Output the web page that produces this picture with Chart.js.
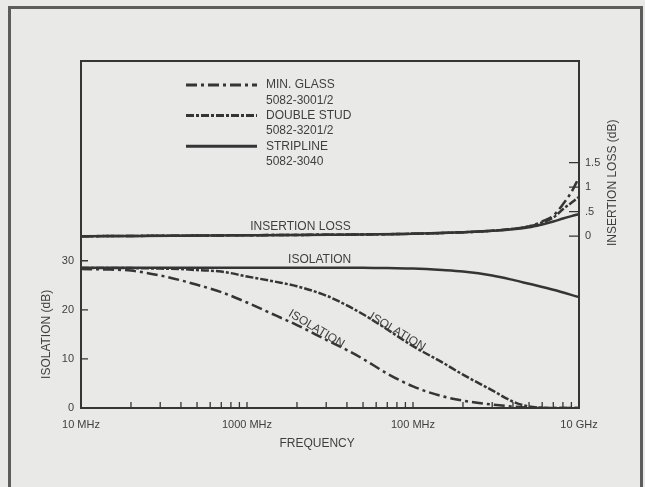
<!DOCTYPE html>
<html><head><meta charset="utf-8">
<script src="https://cdn.jsdelivr.net/npm/chart.js@4.4.1/dist/chart.umd.min.js"></script>
<style>
html,body{margin:0;padding:0;background:#e9e9e8;}
#wrap{position:relative;width:645px;height:487px;overflow:hidden;background:#e9e9e8;}
#frame{position:absolute;left:8px;top:6px;width:635px;height:484px;border:3px solid #5c5c5c;box-sizing:border-box;}
canvas{position:absolute;left:0;top:0;}
</style></head><body>
<div id="wrap"><div id="frame"></div><canvas id="c" width="645" height="487"></canvas></div>
<script>
// ---- data ----
const isoFreqMHz    = [10,15,20,30,40,50,70,100,150,200,300,400,500,700,1000,1500,2000,3000,4000,5000,7000,10000];
const isoMinGlass   = [28.3,28.2,28.0,27.0,26.0,25.1,23.6,21.5,18.8,16.9,13.9,11.8,10.0,7.0,4.4,2.4,1.5,0.7,0.3,0.1,0,0];
const isoDoubleStud = [28.5,28.5,28.5,28.4,28.3,28.1,27.8,26.8,25.7,24.8,22.9,20.9,19.1,16.0,12.6,9.3,6.8,3.6,1.3,0.3,0,0];
const isoStripline  = [28.6,28.6,28.6,28.6,28.6,28.6,28.6,28.6,28.6,28.6,28.6,28.6,28.6,28.5,28.4,28.1,27.8,27.0,26.1,25.3,24.1,22.6];

const lossFreqMHz    = [10,100,1000,2000,3000,4000,5000,6000,7000,8000,9000,10000];
const lossMinGlass   = [0,0.02,0.05,0.08,0.11,0.15,0.2,0.3,0.42,0.65,0.9,1.2];
const lossDoubleStud = [0,0.02,0.05,0.08,0.11,0.15,0.2,0.28,0.38,0.55,0.68,0.8];
const lossStripline  = [0,0.02,0.05,0.08,0.11,0.14,0.18,0.24,0.3,0.36,0.41,0.45];

const seriesNames  = ['MIN. GLASS','DOUBLE STUD','STRIPLINE'];
const seriesParts  = ['5082-3001/2','5082-3201/2','5082-3040'];

const xTickValues  = [10,100,1000,10000];
const xTickLabels  = ['10 MHz','1000 MHz','100 MHz','10 GHz'];
const xMinorTicks  = [20,30,40,50,60,70,80,90,100,200,300,400,500,600,700,800,900,1000,2000,3000,4000,5000,6000,7000,8000,9000];
const yTickValues  = [0,10,20,30];
const y2TickValues = [0,0.5,1,1.5];
const y2TickLabels = ['0','.5','1','1.5'];

const annotations = [
  {text:'INSERTION LOSS', f:210, v:36.9, rot:0},
  {text:'ISOLATION', f:274, v:30.3, rot:0},
  {text:'ISOLATION', f:262, v:16.1, rot:31},
  {text:'ISOLATION', f:805, v:15.5, rot:31}
];

// ---- style ----
const INK = '#353535';
const TXT = '#3f3f3f';
const FONT = "'Liberation Sans', Arial, sans-serif";
const dashes = [[11,4,3,4],[8,2,3,2],[]];
const widths = [2.5,2.5,2.5];
const Y_MAX = 70.7, Y2_ZERO = 35, Y2_SCALE = 10;

Chart.defaults.font.family = FONT;
Chart.defaults.color = TXT;

function pts(xs, ys){ return xs.map((x,i)=>({x:x, y:ys[i]})); }
function ds(label, data, i, axis){
  return {label, data, yAxisID:axis, borderColor:INK, borderWidth:widths[i], borderDash:dashes[i],
          pointRadius:0, fill:false, cubicInterpolationMode:'monotone'};
}

const datasets = [
  ds(seriesNames[0], pts(isoFreqMHz, isoMinGlass), 0, 'y'),
  ds(seriesNames[1], pts(isoFreqMHz, isoDoubleStud), 1, 'y'),
  ds(seriesNames[2], pts(isoFreqMHz, isoStripline), 2, 'y'),
  ds(seriesNames[0], pts(lossFreqMHz, lossMinGlass), 0, 'y2'),
  ds(seriesNames[1], pts(lossFreqMHz, lossDoubleStud), 1, 'y2'),
  ds(seriesNames[2], pts(lossFreqMHz, lossStripline), 2, 'y2')
];

const decor = {
  id:'decor',
  afterDraw(chart){
    const {ctx, chartArea:a, scales:{x,y,y2}} = chart;
    ctx.save();
    // plot box
    ctx.strokeStyle = INK; ctx.lineWidth = 2; ctx.setLineDash([]);
    ctx.strokeRect(a.left, a.top, a.right-a.left, a.bottom-a.top);
    // tick marks (inside)
    ctx.lineWidth = 1.3;
    ctx.beginPath();
    xMinorTicks.forEach(v=>{ const p=x.getPixelForValue(v); ctx.moveTo(p,a.bottom); ctx.lineTo(p,a.bottom-6); });
    yTickValues.forEach(v=>{ if(v===0) return; const p=y.getPixelForValue(v); ctx.moveTo(a.left,p); ctx.lineTo(a.left+7,p); });
    y2TickValues.forEach(v=>{ const p=y2.getPixelForValue(v); ctx.moveTo(a.right,p); ctx.lineTo(a.right-10,p); });
    ctx.stroke();

    // legend
    ctx.fillStyle = TXT;
    ctx.font = '12px ' + FONT;
    ctx.textBaseline = 'middle'; ctx.textAlign = 'left';
    for(let i=0;i<3;i++){
      const ry = a.top + 24 + i*30.6;
      ctx.strokeStyle = INK; ctx.lineWidth = 3; ctx.setLineDash(dashes[i]);
      ctx.beginPath(); ctx.moveTo(a.left+105, ry); ctx.lineTo(a.left+176, ry); ctx.stroke();
      ctx.setLineDash([]);
      ctx.fillText(seriesNames[i], a.left+185, ry);
      ctx.fillText(seriesParts[i], a.left+185, ry+15.3);
    }

    // annotations
    annotations.forEach(an=>{
      const px = x.getPixelForValue(an.f), py = y.getPixelForValue(an.v);
      ctx.save(); ctx.translate(px,py); ctx.rotate(an.rot*Math.PI/180);
      ctx.textAlign='center'; ctx.textBaseline='middle';
      ctx.fillText(an.text,0,0); ctx.restore();
    });

    // axis titles
    ctx.textAlign='center'; ctx.textBaseline='middle';
    ctx.fillText('FREQUENCY', a.left + 0.474*(a.right-a.left), a.bottom + 36);
    ctx.save();
    ctx.translate(a.left-34, (y.getPixelForValue(0)+y.getPixelForValue(30))/2);
    ctx.rotate(-Math.PI/2); ctx.fillText('ISOLATION (dB)',0,0); ctx.restore();
    ctx.save();
    ctx.translate(a.right+34, y2.getPixelForValue(-0.2));
    ctx.rotate(-Math.PI/2); ctx.textAlign='left'; ctx.fillText('INSERTION LOSS (dB)',0,0); ctx.restore();
    ctx.restore();
  }
};

new Chart(document.getElementById('c'), {
  type:'line',
  data:{datasets},
  plugins:[decor],
  options:{
    responsive:false, animation:false, devicePixelRatio:1,
    layout:{padding:{top:61,left:0,right:0,bottom:0}},
    plugins:{legend:{display:false}, tooltip:{enabled:false}},
    scales:{
      x:{type:'logarithmic', min:10, max:10000,
         afterBuildTicks:s=>{ s.ticks = xTickValues.map(v=>({value:v})); },
         afterFit:s=>{ s.height = 79; },
         grid:{display:false, drawTicks:false}, border:{display:false},
         ticks:{autoSkip:false, maxRotation:0, padding:10, color:TXT, font:{size:11},
                callback:(v,i)=>xTickLabels[i]}},
      y:{type:'linear', position:'left', min:0, max:Y_MAX,
         afterBuildTicks:s=>{ s.ticks = yTickValues.map(v=>({value:v})); },
         afterFit:s=>{ s.width = 81; },
         grid:{display:false, drawTicks:false}, border:{display:false},
         ticks:{autoSkip:false, padding:7, color:TXT, font:{size:11}}},
      y2:{type:'linear', position:'right', min:(0-Y2_ZERO)/Y2_SCALE, max:(Y_MAX-Y2_ZERO)/Y2_SCALE,
         afterBuildTicks:s=>{ s.ticks = y2TickValues.map(v=>({value:v})); },
         afterFit:s=>{ s.width = 66; },
         grid:{display:false, drawTicks:false}, border:{display:false},
         ticks:{autoSkip:false, padding:6, color:TXT, font:{size:11},
                callback:(v,i)=>y2TickLabels[i]}}
    }
  }
});
</script>
</body></html>
